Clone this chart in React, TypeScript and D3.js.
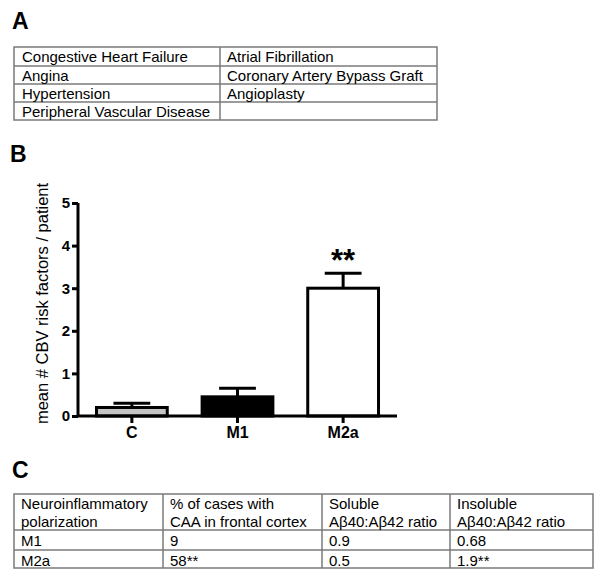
import React, { useEffect, useRef } from "react";
import * as d3 from "d3";

// panel A: CBV risk factors
const riskLeft = ["Congestive Heart Failure", "Angina", "Hypertension", "Peripheral Vascular Disease"];
const riskRight = ["Atrial Fibrillation", "Coronary Artery Bypass Graft", "Angioplasty", ""];

// panel B: bar chart
const groups = ["C", "M1", "M2a"];
const means = [0.2, 0.45, 3.0];
const errors = [0.1, 0.2, 0.35];
const barFills = ["#c4c4c4", "#000000", "#ffffff"];
const yTicks = [0, 1, 2, 3, 4, 5];
const yLabel = "mean # CBV risk factors / patient";

// panel C: table
const headerC = [
  ["Neuroinflammatory", "polarization"],
  ["% of cases with", "CAA in frontal cortex"],
  ["Soluble", "Aβ40:Aβ42 ratio"],
  ["Insoluble", "Aβ40:Aβ42 ratio"],
];
const rowsC = [
  ["M1", "9", "0.9", "0.68"],
  ["M2a", "58**", "0.5", "1.9**"],
];

const FONT = "Arial, 'Liberation Sans', sans-serif";

const App = () => {
  const ref = useRef<SVGSVGElement>(null);

  useEffect(() => {
    const svg = d3.select(ref.current);
    svg.selectAll("*").remove();
    svg.attr("font-family", FONT);

    const lineColor = "#7a7a7a";

    // ---------- A ----------
    svg.append("text").attr("x", 12).attr("y", 29).attr("font-size", 23).attr("font-weight", "bold").text("A");

    const aCols = [14, 220, 437];
    const aRows = [47, 66, 84, 102, 120];
    const gA = svg.append("g");
    gA.append("rect")
      .attr("x", aCols[0]).attr("y", aRows[0])
      .attr("width", aCols[2] - aCols[0]).attr("height", aRows[4] - aRows[0])
      .attr("fill", "none").attr("stroke", lineColor).attr("stroke-width", 1.5);
    aRows.slice(1, -1).forEach((y) =>
      gA.append("line").attr("x1", aCols[0]).attr("x2", aCols[2]).attr("y1", y).attr("y2", y)
        .attr("stroke", lineColor).attr("stroke-width", 1.5)
    );
    gA.append("line").attr("x1", aCols[1]).attr("x2", aCols[1]).attr("y1", aRows[0]).attr("y2", aRows[4])
      .attr("stroke", lineColor).attr("stroke-width", 1.5);
    riskLeft.forEach((t, i) =>
      gA.append("text").attr("x", aCols[0] + 8).attr("y", aRows[i] + 15).attr("font-size", 15).text(t)
    );
    riskRight.forEach((t, i) =>
      gA.append("text").attr("x", aCols[1] + 7).attr("y", aRows[i] + 15).attr("font-size", 15).text(t)
    );

    // ---------- B ----------
    svg.append("text").attr("x", 10).attr("y", 162).attr("font-size", 23).attr("font-weight", "bold").text("B");

    const x = d3.scaleBand().domain(groups).range([78, 397]).paddingInner(0.33).paddingOuter(0.175);
    const y = d3.scaleLinear().domain([0, 5]).range([416, 203]);

    const gB = svg.append("g");

    // error bars (behind bars)
    groups.forEach((g, i) => {
      const cx = x(g)! + x.bandwidth() / 2;
      const cap = x.bandwidth() * 0.26;
      gB.append("line").attr("x1", cx).attr("x2", cx).attr("y1", y(means[i])).attr("y2", y(means[i] + errors[i]))
        .attr("stroke", "#000").attr("stroke-width", 3);
      gB.append("line").attr("x1", cx - cap).attr("x2", cx + cap)
        .attr("y1", y(means[i] + errors[i])).attr("y2", y(means[i] + errors[i]))
        .attr("stroke", "#000").attr("stroke-width", 3);
    });

    gB.selectAll(".bar")
      .data(groups)
      .enter()
      .append("rect")
      .attr("x", (d) => x(d)!)
      .attr("y", (d, i) => y(means[i]))
      .attr("width", x.bandwidth())
      .attr("height", (d, i) => y(0) - y(means[i]))
      .attr("fill", (d, i) => barFills[i])
      .attr("stroke", "#000")
      .attr("stroke-width", 3);

    // y axis
    const yAxis = gB.append("g").attr("transform", "translate(78,0)")
      .call(d3.axisLeft(y).tickValues(yTicks).tickSize(6).tickPadding(2).tickFormat(d3.format("d")));
    yAxis.attr("font-size", 15).attr("font-family", FONT);
    yAxis.select(".domain").attr("stroke-width", 3).attr("d", `M0,${y(5)}V${y(0)}`);
    yAxis.selectAll(".tick line").attr("stroke-width", 3);
    yAxis.selectAll("text").attr("font-size", 15).attr("font-weight", "bold").attr("fill", "#000");

    // x axis
    const xAxis = gB.append("g").attr("transform", `translate(0,${y(0)})`)
      .call(d3.axisBottom(x).tickSize(7).tickPadding(4));
    xAxis.attr("font-size", 16).attr("font-family", FONT);
    xAxis.select(".domain").attr("stroke-width", 3).attr("d", "M78,0H397");
    xAxis.selectAll(".tick line").attr("stroke-width", 3);
    xAxis.selectAll("text").attr("font-size", 16).attr("font-weight", "bold").attr("fill", "#000");

    // significance
    gB.append("text")
      .attr("x", x("M2a")! + x.bandwidth() / 2)
      .attr("y", y(means[2] + errors[2]) - 2)
      .attr("text-anchor", "middle").attr("font-size", 31).attr("font-weight", "bold")
      .text("**");

    // y label
    gB.append("text")
      .attr("transform", `translate(48,${(y(0) + y(5)) / 2 - 6}) rotate(-90)`)
      .attr("text-anchor", "middle").attr("font-size", 16.5)
      .text(yLabel);

    // ---------- C ----------
    svg.append("text").attr("x", 12).attr("y", 478).attr("font-size", 23).attr("font-weight", "bold").text("C");

    const cCols = [14, 163, 322, 450, 593];
    const cRows = [494, 530, 550, 568];
    const gC = svg.append("g");
    gC.append("rect")
      .attr("x", cCols[0]).attr("y", cRows[0])
      .attr("width", cCols[4] - cCols[0]).attr("height", cRows[3] - cRows[0])
      .attr("fill", "none").attr("stroke", lineColor).attr("stroke-width", 1.5);
    cRows.slice(1, -1).forEach((yy) =>
      gC.append("line").attr("x1", cCols[0]).attr("x2", cCols[4]).attr("y1", yy).attr("y2", yy)
        .attr("stroke", lineColor).attr("stroke-width", 1.5)
    );
    cCols.slice(1, -1).forEach((xx) =>
      gC.append("line").attr("x1", xx).attr("x2", xx).attr("y1", cRows[0]).attr("y2", cRows[3])
        .attr("stroke", lineColor).attr("stroke-width", 1.5)
    );
    headerC.forEach((lines, c) =>
      lines.forEach((t, l) =>
        gC.append("text").attr("x", cCols[c] + 7).attr("y", cRows[0] + 15 + l * 17.5).attr("font-size", 15).text(t)
      )
    );
    rowsC.forEach((row, r) =>
      row.forEach((t, c) =>
        gC.append("text").attr("x", cCols[c] + 7).attr("y", cRows[r + 1] + 15.5).attr("font-size", 15).text(t)
      )
    );
  }, []);

  return (
    <svg
      ref={ref}
      width={600}
      height={578}
      style={{ position: "absolute", left: 0, top: 0, background: "#fff" }}
    ></svg>
  );
};

export default App;
